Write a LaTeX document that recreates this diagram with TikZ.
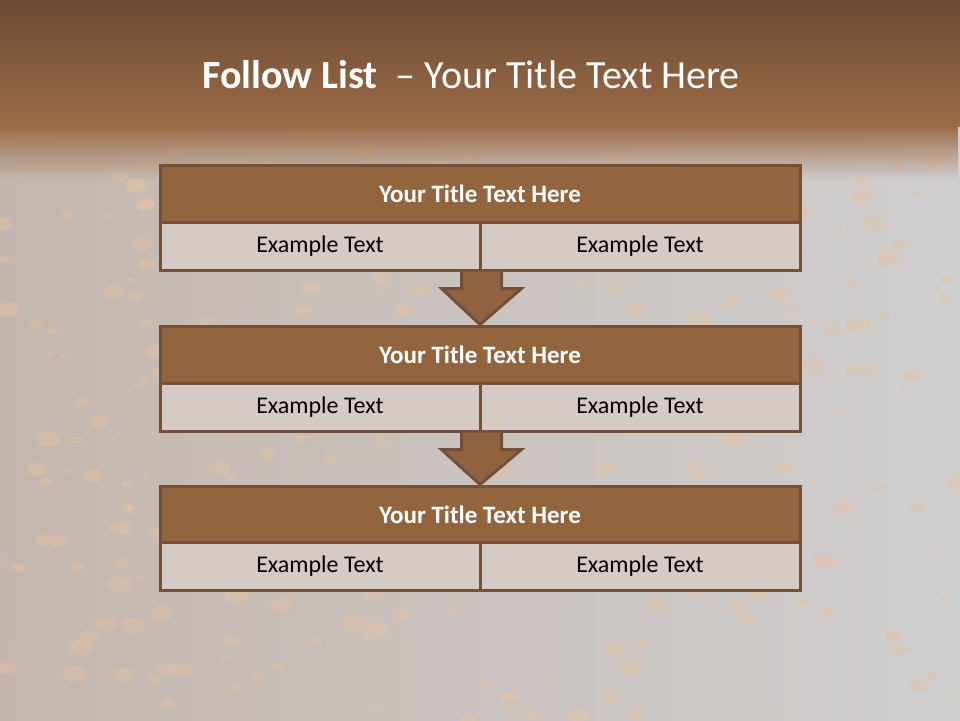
\documentclass[tikz,border=0pt]{standalone}
\usepackage{fontspec}
\setmainfont{Carlito}
\usetikzlibrary{calc,fadings}
\definecolor{bandtop}{HTML}{6C4A33}
\definecolor{bandbot}{HTML}{9C6C48}
\definecolor{greyL}{HTML}{C4B6AE}
\definecolor{greyR}{HTML}{D0CFCF}
\definecolor{rust}{HTML}{E6C2A0}
\definecolor{edge}{HTML}{74503A}
\definecolor{headfill}{HTML}{93653F}
\definecolor{cellfill}{HTML}{D5CAC5}
\definecolor{arrowfill}{HTML}{8F6240}
\tikzfading[name=fadedown, top color=transparent!0, bottom color=transparent!100]
\tikzset{
  headcell/.style={draw=edge, line width=3pt, fill=headfill, minimum width=640pt, minimum height=57pt, inner sep=0pt, text=white, font=\fontsize{25}{30}\selectfont\bfseries},
  textcell/.style={draw=edge, line width=3pt, fill=cellfill, minimum width=320pt, minimum height=48pt, inner sep=0pt, text=black, font=\fontsize{24}{29}\selectfont},
  downarrow/.style={draw=edge, line width=3pt, fill=arrowfill, line join=miter}
}
\begin{document}
\begin{tikzpicture}[x=1pt,y=-1pt]
\useasboundingbox (0,0) rectangle (960,720);
% background
\shade[left color=greyL, right color=greyR] (0,120) rectangle (960,720);
\pgfmathsetseed{7}
\foreach \i in {1,...,300}{
  \pgfmathsetmacro{\px}{rnd*960}
  \pgfmathsetmacro{\py}{150+rnd*570}
  \pgfmathsetmacro{\pr}{1+rnd*7}
  \fill[rust, opacity=0.45] (\px,\py) ellipse ({\pr*1.6} and \pr);
}
\shade[top color=bandtop, bottom color=bandbot] (0,0) rectangle (960,126);
\fill[bandbot, path fading=fadedown] (0,125) rectangle (960,180);
% title
\node[text=white, font=\fontsize{40}{48}\selectfont, anchor=base] (title) at (471,88) {\textbf{Follow List}\ \ – Your Title Text Here};
% rows
\node[headcell] (h1) at (480,193.5) {Your Title Text Here};
\node[textcell] (l1) at (320,246) {Example Text};
\node[textcell] (r1) at (640,246) {Example Text};
\node[headcell] (h2) at (480,354.5) {Your Title Text Here};
\node[textcell] (l2) at (320,407) {Example Text};
\node[textcell] (r2) at (640,407) {Example Text};
\node[headcell] (h3) at (480,514.5) {Your Title Text Here};
\node[textcell] (l3) at (320,566) {Example Text};
\node[textcell] (r3) at (640,566) {Example Text};
% arrows
\draw[downarrow] ($(l1.south east)+(-20,0)$) -- ($(l1.south east)+(-20,17)$) -- ($(l1.south east)+(-40,17)$)
  -- (h2.north) -- ($(l1.south east)+(40,17)$) -- ($(l1.south east)+(20,17)$) -- ($(l1.south east)+(20,0)$);
\draw[downarrow] ($(l2.south east)+(-20,0)$) -- ($(l2.south east)+(-20,17)$) -- ($(l2.south east)+(-40,17)$)
  -- (h3.north) -- ($(l2.south east)+(40,17)$) -- ($(l2.south east)+(20,17)$) -- ($(l2.south east)+(20,0)$);
\end{tikzpicture}
\end{document}
